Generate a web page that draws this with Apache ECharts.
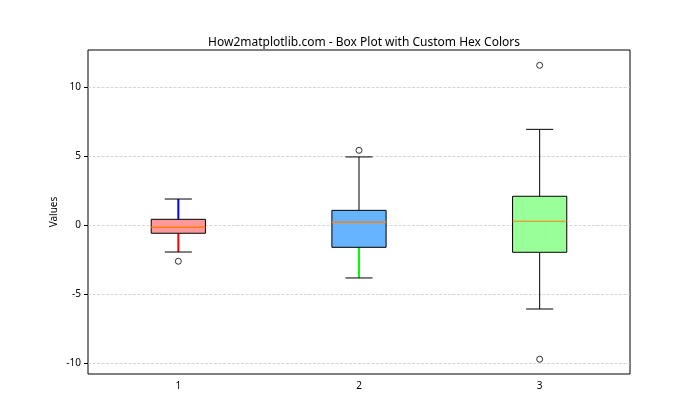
<!DOCTYPE html>
<html><head><meta charset="utf-8">
<script src="https://cdn.jsdelivr.net/npm/echarts@6/dist/echarts.min.js"></script>
<style>html,body{margin:0;padding:0;background:#fff}#c{width:700px;height:420px}</style>
</head><body><div id="c"></div>
<script>
var categories = ['1', '2', '3'];
var whiskerLow = [-1.96, -3.84, -6.09];
var q1 = [-0.60, -1.62, -1.98];
var median = [-0.17, 0.19, 0.27];
var q3 = [0.41, 1.06, 2.08];
var whiskerHigh = [1.88, 4.93, 6.93];
var outliers = [[0, -2.63], [1, 5.41], [2, 11.57], [2, -9.73]];
var yTicks = [-10, -5, 0, 5, 10];
var boxColors = ['#FF9999', '#66B3FF', '#99FF99'];
var lowWhiskerColors = ['#FF0000', '#00FF00', '#000000'];
var highWhiskerColors = ['#0000FF', '#000000', '#000000'];

var font = 'Noto Sans, DejaVu Sans, sans-serif';
var boxData = categories.map(function (c, i) {
  return [i, whiskerLow[i], q1[i], median[i], q3[i], whiskerHigh[i]];
});

var chart = echarts.init(document.getElementById('c'), null, {renderer: 'canvas'});
chart.setOption({
  animation: false,
  title: {
    text: 'How2matplotlib.com - Box Plot with Custom Hex Colors',
    left: 359, top: 32, textAlign: 'center',
    textStyle: {fontFamily: font, fontSize: 12, fontWeight: 'normal', color: '#000'}
  },
  grid: {left: 88, right: 70, top: 50, bottom: 46, show: true, borderColor: '#000', borderWidth: 1, backgroundColor: 'transparent'},
  xAxis: {
    type: 'category', data: categories, boundaryGap: true,
    axisLine: {show: false},
    axisTick: {show: true, alignWithLabel: true, length: 4, lineStyle: {color: '#000'}},
    axisLabel: {fontFamily: font, fontSize: 10, color: '#000', margin: 7},
    splitLine: {show: false}
  },
  yAxis: {
    type: 'value', min: -10.8, max: 12.68, interval: 5,
    name: 'Values', nameLocation: 'middle', nameGap: 29, nameRotate: 90, nameMoveOverlap: false,
    nameTextStyle: {fontFamily: font, fontSize: 10, color: '#000'},
    axisLine: {show: false},
    axisTick: {show: true, length: 4, lineStyle: {color: '#000'}, customValues: yTicks},
    axisLabel: {fontFamily: font, fontSize: 10, color: '#000', margin: 7, customValues: yTicks},
    splitLine: {show: true, showMinLine: true, showMaxLine: true, lineStyle: {color: '#cccccc', type: [3, 1.5], width: 0.8}}
  },
  series: [
    {
      type: 'custom',
      data: boxData,
      encode: {x: 0, y: [1, 2, 3, 4, 5]},
      renderItem: function (params, api) {
        var i = api.value(0);
        var bw = api.size([1, 0])[0] * 0.3;
        var cx = api.coord([i, 0])[0];
        var yLo = api.coord([i, api.value(1)])[1];
        var yQ1 = api.coord([i, api.value(2)])[1];
        var yMed = api.coord([i, api.value(3)])[1];
        var yQ3 = api.coord([i, api.value(4)])[1];
        var yHi = api.coord([i, api.value(5)])[1];
        var capW = bw / 2;
        var lw = function (c) { return c === '#000000' ? 1 : 2; };
        return {
          type: 'group',
          children: [
            {type: 'line', shape: {x1: cx, y1: yQ1, x2: cx, y2: yLo}, style: {stroke: lowWhiskerColors[i], lineWidth: lw(lowWhiskerColors[i])}},
            {type: 'line', shape: {x1: cx, y1: yQ3, x2: cx, y2: yHi}, style: {stroke: highWhiskerColors[i], lineWidth: lw(highWhiskerColors[i])}},
            {type: 'line', shape: {x1: cx - capW / 2, y1: yLo, x2: cx + capW / 2, y2: yLo}, style: {stroke: '#000', lineWidth: 1}},
            {type: 'line', shape: {x1: cx - capW / 2, y1: yHi, x2: cx + capW / 2, y2: yHi}, style: {stroke: '#000', lineWidth: 1}},
            {type: 'rect', shape: {x: cx - bw / 2, y: yQ3, width: bw, height: yQ1 - yQ3}, style: {fill: boxColors[i], stroke: '#000', lineWidth: 1}},
            {type: 'line', shape: {x1: cx - bw / 2, y1: yMed, x2: cx + bw / 2, y2: yMed}, style: {stroke: '#ff7f0e', lineWidth: i < 2 ? 1.5 : 1}}
          ]
        };
      },
      z: 3
    },
    {
      type: 'scatter',
      data: outliers,
      symbol: 'circle', symbolSize: 6,
      itemStyle: {color: '#fff', borderColor: '#000', borderWidth: 1},
      z: 4
    }
  ]
});
</script></body></html>
